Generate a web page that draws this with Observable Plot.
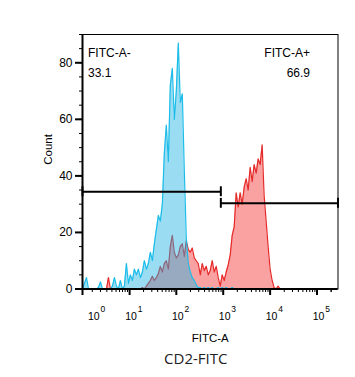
<!DOCTYPE html>
<html>
<head>
<meta charset="utf-8">
<script src="https://cdn.jsdelivr.net/npm/d3@7"></script>
<script src="https://cdn.jsdelivr.net/npm/@observablehq/plot@0.6"></script>
<style>
  html, body { margin: 0; padding: 0; background: #fff; }
  #chart svg { display: block; }
</style>
</head>
<body>
<div id="chart"></div>
<script>
// ---- data ----
// 128-bin histograms on the FlowJo biexponential display channel (0 .. 128)
const blueCounts = [
  0, 2, 4, 0, 0, 0, 0, 0, 0.5, 2.5,
  0, 0, 0, 0, 0, 1, 4, 1, 0, 3,
  0, 1, 9, 2, 5, 3, 7, 5, 7, 4,
  6, 10, 7, 9, 13, 10, 16, 21, 26, 24,
  30, 48, 58, 45, 72, 78, 60, 70, 87, 66,
  69, 42, 18, 9, 6, 4, 3, 1.5, 0.5, 0.5,
  0, 0.5, 0, 0.5, 0, 0.5, 0, 0, 0.5, 0,
  0.5, 0, 0.5, 0, 0, 0.5, 0, 0, 0, 0,
  0, 0, 0, 0, 0, 0, 0, 0, 0, 0,
  0, 0, 0, 0, 0, 0, 0, 0, 0, 0,
  0, 0, 0, 0, 0, 0, 0, 0, 0, 0,
  0, 0, 0, 0, 0, 0, 0, 0, 0, 0,
  0, 0, 0, 0, 0, 0, 0, 0
];
const redCounts = [
  0, 0, 0, 0, 0, 0, 0, 0, 0, 0,
  0, 0, 0, 4, 0, 0, 0, 0, 0, 0,
  0, 0, 0, 0, 0, 0, 0, 0, 0, 0,
  0.5, 0, 1, 2, 3, 4.5, 3, 4, 5.5, 8,
  6, 9, 10, 7, 15, 19, 13, 11, 12, 15,
  16, 11.5, 17, 14, 13, 14.5, 11, 10, 9, 5,
  9, 6.5, 8, 5, 6.5, 10, 6, 8, 4, 1,
  5, 3, 6, 8.5, 12, 19, 22, 34, 29, 34,
  30, 36, 39, 35, 43, 38, 44, 41, 46, 44,
  51, 33, 24, 15, 7, 3, 0.5, 0, 1, 0,
  0, 0, 0, 0, 0, 0, 0, 0, 0, 0,
  0, 0, 0, 0, 0, 0, 0, 0, 0, 0,
  0, 0, 0, 0, 0, 0, 0, 0
];
const xMaxValue = 280000;           // top of the FITC-A range
const decades = [0, 1, 2, 3, 4, 5];  // x tick labels 10^k
const yTicks = [0, 20, 40, 60, 80];
const gateNames = ["FITC-A-", "FITC-A+"];
const gatePercent = ["33.1", "66.9"];
const gateFrom = [0, 890];
const gateTo = [890, 280000];
const gateLevel = [34.4, 30.3];

// ---- biexponential (arcsinh) display transform ----
const nBins = blueCounts.length;
const chPerUnit = nBins / Math.asinh(xMaxValue / 2);
const ch = v => Math.asinh(v / 2) * chPerUnit;

const blue = blueCounts.map((c, i) => ({ch: i, count: c}));
const red = redCounts.map((c, i) => ({ch: i, count: c}));
const gates = gateNames.map((n, i) => ({name: n, pct: gatePercent[i], from: gateFrom[i], to: gateTo[i], level: gateLevel[i]}));

const majorX = [0, 10, 100, 1000, 10000, 100000];
const minorX = [];
for (let k = 0; k <= 5; k++) for (let m = 1; m <= 9; m++) {
  const v = m * 10 ** k;
  if (m === 1 && k > 0) continue;
  if (v <= xMaxValue) minorX.push(v);
}
minorX.push(200000);

const font = "'Liberation Sans', Arial, sans-serif";

const chart = Plot.plot({
  width: 355,
  height: 377,
  marginLeft: 82,
  marginRight: 17.5,
  marginTop: 34,
  marginBottom: 88.5,
  style: {fontFamily: font, fontSize: "11.5px", background: "white", color: "black"},
  x: {domain: [0, ch(xMaxValue)], axis: null},
  y: {domain: [0, 90], axis: null},
  marks: [
    // histograms
    Plot.areaY(red, {x: "ch", y: "count", fill: "#f54646", fillOpacity: 0.5}),
    Plot.lineY(red, {x: "ch", y: "count", stroke: "#e62a2a", strokeWidth: 1.2}),
    Plot.areaY(blue, {x: "ch", y: "count", fill: "#1fb3e5", fillOpacity: 0.45}),
    Plot.lineY(blue, {x: "ch", y: "count", stroke: "#1cbde9", strokeWidth: 1.2}),
    // frame
    Plot.frame({stroke: "black", strokeWidth: 1}),
    Plot.ruleX([0], {stroke: "black", strokeWidth: 2}),
    Plot.ruleY([0], {stroke: "black", strokeWidth: 2}),
    // y axis
    Plot.axisY(d3.range(0, 91, 5), {tickSize: 3, strokeWidth: 1, tickFormat: () => "", label: null}),
    Plot.axisY(yTicks, {tickSize: 7, strokeWidth: 2, tickPadding: 3, fontSize: 12, label: null}),
    // x axis
    Plot.axisX(minorX.map(ch), {tickSize: 3.5, strokeWidth: 1, tickFormat: () => "", label: null}),
    Plot.axisX(majorX.map(ch), {tickSize: 6.5, strokeWidth: 2, tickFormat: () => "", label: null}),
    Plot.text(decades, {x: d => ch(10 ** d), text: () => "10", frameAnchor: "bottom", dy: 27.5, dx: 1.5, fontSize: 10.5, lineAnchor: "middle"}),
    Plot.text(decades, {x: d => ch(10 ** d), text: d => String(d), frameAnchor: "bottom", dy: 20.5, dx: 10.5, fontSize: 8.5, lineAnchor: "middle"}),
    Plot.text(["FITC-A"], {frameAnchor: "bottom", dy: 49, fontSize: 11.5, lineAnchor: "middle"}),
    Plot.text(["CD2-FITC"], {frameAnchor: "bottom", dy: 70.5, dx: -14.5, fontSize: 15, lineAnchor: "middle", fill: "#222", fontFamily: "'Open Sans', 'Noto Sans', sans-serif"}),
    Plot.text(["Count"], {frameAnchor: "left", dx: -34.5, dy: 3, rotate: -90, fontSize: 11.5, lineAnchor: "middle"}),
    // gates
    Plot.ruleY(gates, {y: "level", x1: d => ch(d.from), x2: d => ch(d.to), stroke: "black", strokeWidth: 2}),
    Plot.ruleX(gates, {x: d => ch(d.from), y1: d => d.level - 1.75, y2: d => d.level + 1.75, stroke: "black", strokeWidth: 2}),
    Plot.ruleX(gates, {x: d => ch(d.to), y1: d => d.level - 1.75, y2: d => d.level + 1.75, stroke: "black", strokeWidth: 2}),
    // gate labels
    Plot.text(gates.slice(0, 1), {text: "name", frameAnchor: "top-left", dx: 5.5, dy: 19, textAnchor: "start", lineAnchor: "middle", fontSize: 12}),
    Plot.text(gates.slice(0, 1), {text: "pct", frameAnchor: "top-left", dx: 5.5, dy: 38.5, textAnchor: "start", lineAnchor: "middle", fontSize: 12}),
    Plot.text(gates.slice(1, 2), {text: "name", frameAnchor: "top-right", dx: -28, dy: 19, textAnchor: "end", lineAnchor: "middle", fontSize: 12}),
    Plot.text(gates.slice(1, 2), {text: "pct", frameAnchor: "top-right", dx: -28, dy: 38.5, textAnchor: "end", lineAnchor: "middle", fontSize: 12})
  ]
});
document.getElementById("chart").appendChild(chart);
</script>
</body>
</html>
